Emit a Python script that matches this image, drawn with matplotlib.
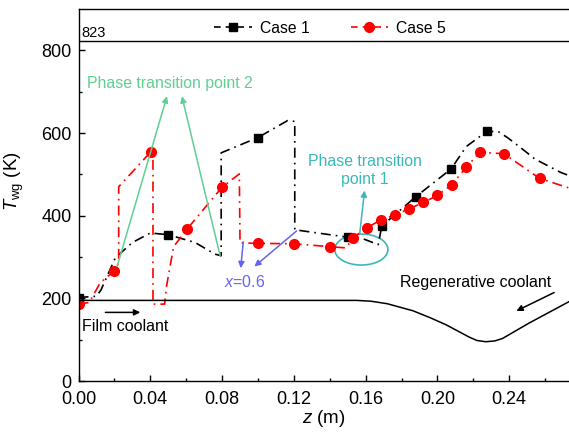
import matplotlib
matplotlib.use("Agg")
import matplotlib.pyplot as plt
from matplotlib.lines import Line2D
from matplotlib.patches import Ellipse
from matplotlib.ticker import MultipleLocator, FixedLocator, FormatStrFormatter

plt.rcParams['font.family'] = ['Liberation Sans', 'DejaVu Sans']
plt.rcParams['mathtext.fontset'] = 'custom'
plt.rcParams['mathtext.rm'] = 'Liberation Sans'
plt.rcParams['mathtext.it'] = 'Liberation Sans:italic'

# Case 1 markers and line path
c1_z = [0.0, 0.05, 0.10, 0.15, 0.169, 0.188, 0.2076, 0.2275]
c1_T = [202, 354, 589, 348, 376, 446, 513, 605]
c1_line_z = [0.0, 0.01, 0.0125, 0.0205, 0.03, 0.04, 0.05, 0.065, 0.076, 0.0795, 0.0795,
             0.10, 0.1165, 0.1205, 0.1205, 0.13, 0.15, 0.158, 0.167, 0.169, 0.188, 0.2076,
             0.216, 0.2275, 0.234, 0.2393, 0.2477, 0.2543, 0.2685, 0.2733]
c1_line_T = [202, 205, 220, 298, 335, 358, 354, 335, 307, 303, 552,
             589, 630, 628, 366, 360, 348, 345, 330, 375, 446, 513,
             567, 604, 603, 588, 560, 537, 505, 497]

# Case 5 markers and line path
c5_z = [0.0, 0.02, 0.0404, 0.0604, 0.08, 0.10, 0.12, 0.14, 0.153, 0.1607, 0.1687,
        0.1765, 0.1844, 0.1922, 0.200, 0.208, 0.216, 0.2235, 0.237, 0.257]
c5_T = [186, 267, 555, 367, 469, 333, 332, 325, 346, 371, 390,
        402, 417, 432, 449, 475, 517, 553, 550, 490]
c5_line_z = [0.0, 0.006, 0.012, 0.02, 0.0224, 0.0224, 0.026, 0.0404, 0.0415, 0.0415,
             0.048, 0.049, 0.053, 0.0604, 0.08, 0.0896, 0.0900, 0.10, 0.12, 0.14, 0.149,
             0.153, 0.1607, 0.1687, 0.1765, 0.1844, 0.1922, 0.200, 0.208, 0.216, 0.2235,
             0.237, 0.257, 0.2733]
c5_line_T = [186, 190, 237, 267, 286, 470, 487, 555, 555, 186,
             186, 228, 325, 367, 469, 501, 334, 333, 332, 325, 322,
             346, 371, 390, 402, 417, 432, 449, 475, 517, 553,
             550, 490, 467]

# coolant channel outline
cool_z = [0.0, 0.155, 0.163, 0.172, 0.1863, 0.196, 0.2048, 0.2178, 0.222, 0.227,
          0.232, 0.2363, 0.251, 0.2733]
cool_T = [195, 195, 193, 187, 170, 153, 136, 106, 98, 95, 97, 103, 140, 192]

green = '#5fcf93'
teal = '#3ab8b8'
blue = '#6464ee'

fig = plt.figure(figsize=(5.69, 4.32), dpi=100)
ax = fig.add_axes([78.5 / 569, 51 / 432, 1 - 78.5 / 569, 372 / 432])

dash1 = (0, (6, 3, 1, 3))
ax.plot(c1_line_z, c1_line_T, color='black', lw=1.2, ls=dash1)
ax.plot(c5_line_z, c5_line_T, color='red', lw=1.2, ls=dash1)
ax.plot(c1_z, c1_T, ls='none', marker='s', ms=5.5, color='black')
ax.plot(c5_z, c5_T, ls='none', marker='o', ms=7, color='red')
ax.plot(cool_z, cool_T, color='black', lw=1.1)
ax.axhline(823, color='black', lw=1.0)

ax.set_xlim(0, 0.2733)
ax.set_ylim(0, 900)

ax.spines['right'].set_visible(False)
for s in ['left', 'top', 'bottom']:
    ax.spines[s].set_linewidth(1.0)

ax.xaxis.set_major_locator(MultipleLocator(0.04))
ax.xaxis.set_minor_locator(MultipleLocator(0.02))
ax.xaxis.set_major_formatter(FormatStrFormatter('%.2f'))
ax.yaxis.set_major_locator(FixedLocator([0, 200, 400, 600, 800]))
ax.yaxis.set_minor_locator(FixedLocator([100, 300, 500, 700]))
ax.tick_params(which='both', direction='in', labelsize=13)
ax.tick_params(which='major', length=4, width=1)
ax.tick_params(which='minor', length=2.5, width=1)
ax.tick_params(axis='x', pad=7.5)
ax.tick_params(axis='y', pad=5)

ax.set_xlabel('$z$ (m)', fontsize=13.5, labelpad=0)
ax.set_ylabel('$T_{\\mathrm{wg}}$ (K)', fontsize=13.5)
ax.yaxis.set_label_coords(-0.108, 0.538)

ax.text(0.0018, 826, '823', fontsize=10.5, ha='left', va='bottom')

handles = [Line2D([], [], color='black', lw=1.2, ls=(0, (4, 3)), marker='s', ms=5.5),
           Line2D([], [], color='red', lw=1.2, ls=(0, (4, 3)), marker='o', ms=7)]
ax.legend(handles, ['Case 1', 'Case 5'], loc='center', bbox_to_anchor=(0.513, 0.948),
          ncol=2, frameon=False, fontsize=11.3, handlelength=2.4, handletextpad=0.5,
          columnspacing=2.6)

arrow = dict(arrowstyle='-|>', lw=1.1, mutation_scale=9, shrinkA=0, shrinkB=0)

# phase transition point 2
ax.text(0.0047, 719, 'Phase transition point 2', color=green, fontsize=11.4,
        ha='left', va='center')
ax.annotate('', xy=(0.0493, 689), xytext=(0.0215, 277), arrowprops=dict(arrow, color=green))
ax.annotate('', xy=(0.0576, 689), xytext=(0.0789, 303), arrowprops=dict(arrow, color=green))

# phase transition point 1
ax.text(0.1597, 509, 'Phase transition\npoint 1', color=teal, fontsize=11.4,
        ha='center', va='center', linespacing=1.2)
ax.annotate('', xy=(0.1594, 461), xytext=(0.1567, 357), arrowprops=dict(arrow, color=teal))
ax.add_patch(Ellipse((0.1576, 318), 0.0296, 75, fill=False, edgecolor=teal, lw=1.2))

# x = 0.6
ax.text(0.0928, 240, '$x$=0.6', color=blue, fontsize=11.4, ha='center', va='center')
ax.annotate('', xy=(0.098, 277), xytext=(0.1215, 363), arrowprops=dict(arrow, color=blue))
ax.annotate('', xy=(0.0904, 273), xytext=(0.0918, 337), arrowprops=dict(arrow, color=blue))

# coolant labels
ax.text(0.0018, 131, 'Film coolant', fontsize=11.5, ha='left', va='center')
ax.annotate('', xy=(0.0344, 166), xytext=(0.015, 166), arrowprops=dict(arrow, color='black'))
ax.text(0.1789, 239, 'Regenerative coolant', fontsize=11.5, ha='left', va='center')
ax.annotate('', xy=(0.244, 169.5), xytext=(0.265, 214), arrowprops=dict(arrow, color='black'))

fig.savefig('out.png', dpi=100)
